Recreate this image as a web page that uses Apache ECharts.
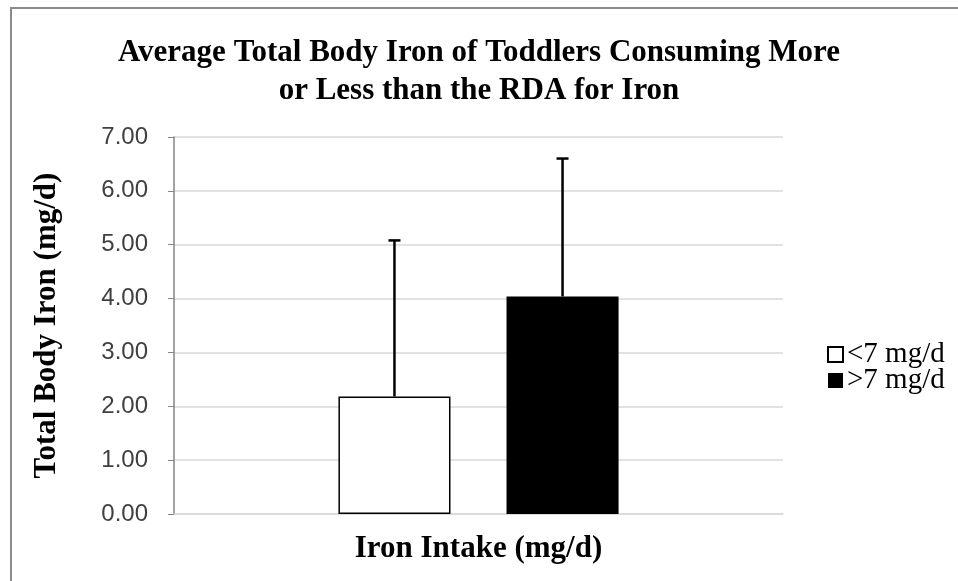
<!DOCTYPE html>
<html>
<head>
<meta charset="utf-8">
<script src="https://cdn.jsdelivr.net/npm/echarts@6/dist/echarts.min.js"></script>
<style>
  html, body { margin: 0; padding: 0; background: #fff; }
  #chart { width: 958px; height: 581px; }
</style>
</head>
<body>
<div id="chart"></div>
<script>
const categories = ['Iron Intake']
const groups = ['<7 mg/d', '>7 mg/d']
const meanIron = [2.18, 4.04]
const sdIron = [2.90, 2.56]
const yTicks = [0, 1, 2, 3, 4, 5, 6, 7]

const serif = 'Liberation Serif'
const barWidthPct = 0.184
const barGapPct = 0.5

// error bar drawn over bar number `idx` of the group
function errorSeries(idx) {
  return {
    type: 'custom',
    name: 'err' + idx,
    z: 5,
    silent: true,
    data: [[0, meanIron[idx], meanIron[idx] + sdIron[idx]]],
    renderItem(params, api) {
      const band = api.size([1, 0])[0]
      const bw = band * barWidthPct
      const off = (bw + bw * barGapPct) / 2 * (idx === 0 ? -1 : 1)
      const lo = api.coord([api.value(0), api.value(1)])
      const hi = api.coord([api.value(0), api.value(2)])
      const x = lo[0] + off
      const style = { stroke: '#000', lineWidth: 2.5 }
      return {
        type: 'group',
        children: [
          { type: 'line', shape: { x1: x, y1: lo[1], x2: x, y2: hi[1] }, style },
          { type: 'line', shape: { x1: x - 6, y1: hi[1], x2: x + 6, y2: hi[1] }, style }
        ]
      }
    }
  }
}

const chart = echarts.init(document.getElementById('chart'))
chart.setOption({
  animation: false,
  title: {
    text: 'Average Total Body Iron of Toddlers Consuming More\nor Less than the RDA for Iron',
    left: 'center',
    top: 29,
    textStyle: { fontFamily: serif, fontWeight: 'bold', fontSize: 31, lineHeight: 38, color: '#000' }
  },
  graphic: [{
    type: 'rect',
    shape: { x: 11, y: 8, width: 980, height: 620 },
    style: { fill: 'none', stroke: '#8c8c8c', lineWidth: 2 },
    silent: true
  }],
  legend: {
    data: groups,
    orient: 'vertical',
    left: 822,
    top: 335,
    itemWidth: 15,
    itemHeight: 15,
    itemGap: -3,
    textStyle: { fontFamily: serif, fontSize: 29, color: '#000', padding: [0, 0, 0, -1] },
    icon: 'rect'
  },
  grid: { left: 174, right: 175, top: 137, bottom: 67 },
  xAxis: {
    type: 'category',
    data: categories,
    name: 'Iron Intake (mg/d)',
    nameLocation: 'middle',
    nameGap: 19,
    nameTextStyle: { fontFamily: serif, fontWeight: 'bold', fontSize: 31, color: '#000' },
    axisLabel: { show: false },
    axisTick: { show: false },
    axisLine: { lineStyle: { color: '#d9d9d9', width: 1.5 } }
  },
  yAxis: {
    type: 'value',
    min: yTicks[0],
    max: yTicks[yTicks.length - 1],
    interval: 1,
    name: 'Total Body Iron (mg/d)',
    nameLocation: 'middle',
    nameGap: 112,
    nameTextStyle: { fontFamily: serif, fontWeight: 'bold', fontSize: 31, color: '#000' },
    axisLine: { show: true, lineStyle: { color: '#868686', width: 1.5 } },
    axisTick: { show: true, length: 6, lineStyle: { color: '#868686' } },
    axisLabel: {
      margin: 26,
      fontFamily: 'Liberation Sans',
      fontSize: 24,
      color: '#404040',
      formatter: v => v.toFixed(2)
    },
    splitLine: { lineStyle: { color: '#d9d9d9', width: 1.5 } }
  },
  series: [
    {
      name: groups[0],
      type: 'bar',
      data: [meanIron[0]],
      barWidth: (barWidthPct * 100) + '%',
      barGap: (barGapPct * 100) + '%',
      itemStyle: { color: '#fff', borderColor: '#000', borderWidth: 1.5 }
    },
    {
      name: groups[1],
      type: 'bar',
      data: [meanIron[1]],
      barWidth: (barWidthPct * 100) + '%',
      barGap: (barGapPct * 100) + '%',
      itemStyle: { color: '#000' }
    },
    errorSeries(0),
    errorSeries(1)
  ]
})
</script>
</body>
</html>
